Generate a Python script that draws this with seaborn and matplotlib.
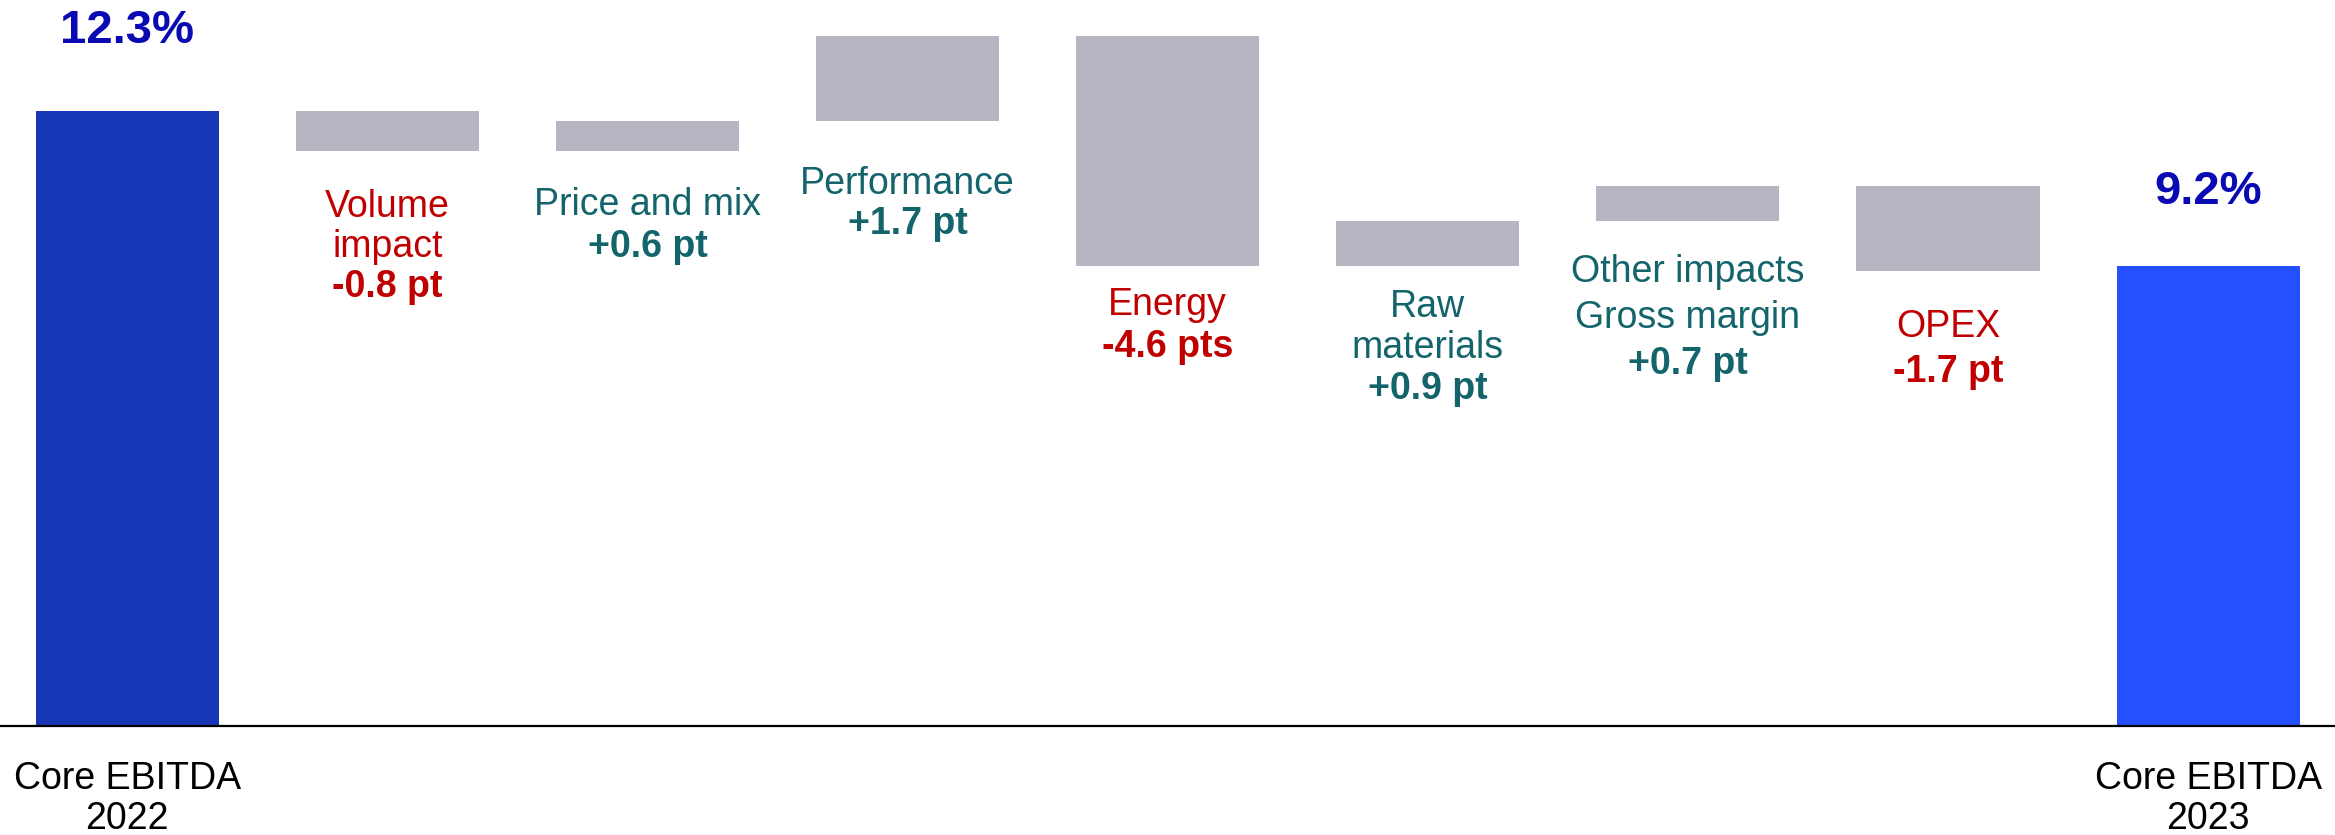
import numpy as np
import pandas as pd
import matplotlib
matplotlib.use("Agg")
import matplotlib.pyplot as plt
import seaborn as sns

# data
categories = ["Core EBITDA 2022", "Volume impact", "Price and mix", "Performance",
              "Energy", "Raw materials", "Other impacts Gross margin", "OPEX",
              "Core EBITDA 2023"]
start_value = 12.3
end_value = 9.2
deltas = [-0.8, 0.6, 1.7, -4.6, 0.9, 0.7, -1.7]
start_label = "12.3%"
end_label = "9.2%"
total_names = [["Core EBITDA", "2022"], ["Core EBITDA", "2023"]]
step_names = [["Volume", "impact"], ["Price and mix"], ["Performance"], ["Energy"],
              ["Raw", "materials"], ["Other impacts", "Gross margin"], ["OPEX"]]
delta_labels = ["-0.8 pt", "+0.6 pt", "+1.7 pt", "-4.6 pts", "+0.9 pt", "+0.7 pt", "-1.7 pt"]

# layout / style
label_gap = [1.1, 1.07, 1.25, 0.77, 0.81, 1.0, 1.1]
line_step = [0.8, 0.84, 0.8, 0.84, 0.82, 0.92, 0.9]
start_color = "#1737B8"
end_color = "#2450FF"
step_color = "#B4B4C4"
pct_color = "#0A0AB4"
pos_color = "#13646B"
neg_color = "#C00000"


def build_frame():
    """Floating bars: bottom and height for each step of the bridge."""
    levels = np.concatenate([[start_value], start_value + np.cumsum(deltas)])
    bottoms = [0.0]
    heights = [start_value]
    for i, d in enumerate(deltas):
        lo = min(levels[i], levels[i + 1])
        bottoms.append(lo)
        heights.append(abs(d))
    bottoms.append(0.0)
    heights.append(end_value)
    return pd.DataFrame({"step": categories, "height": heights, "bottom": bottoms})


def main():
    df = build_frame()

    sns.set_style("white")
    plt.rcParams["font.family"] = ["Liberation Sans", "DejaVu Sans"]

    fig = plt.figure(figsize=(23.35, 8.359), dpi=100)
    ax = fig.add_axes([0, 0, 1, 1])

    sns.barplot(data=df, x="step", y="height", order=categories, bottom=df["bottom"].values,
                color=step_color, width=0.704, linewidth=0, errorbar=None, ax=ax)
    bars = ax.patches
    bars[0].set_facecolor(start_color)
    bars[-1].set_facecolor(end_color)

    ax.axhline(0, color="black", lw=1.6, zorder=3)
    ax.set_xlim(-0.4895, 8.488)
    ax.set_ylim(-2.18, 14.54)
    ax.set_axis_off()

    fs = 27
    # totals
    last = len(categories) - 1
    ax.text(0, start_value + 1.62, start_label, ha="center", va="center",
            fontsize=34, fontweight="bold", color=pct_color)
    ax.text(last, end_value + 1.5, end_label, ha="center", va="center",
            fontsize=34, fontweight="bold", color=pct_color)
    for x, lines in zip([0, last], total_names):
        for k, line in enumerate(lines):
            ax.text(x, -1.04 - 0.8 * k, line, ha="center", va="center",
                    fontsize=fs, color="black")

    # step labels under each floating bar
    for i, (lines, lab) in enumerate(zip(step_names, delta_labels)):
        x = i + 1
        col = neg_color if deltas[i] < 0 else pos_color
        y = df["bottom"].iloc[x] - label_gap[i]
        for line in lines:
            ax.text(x, y, line, ha="center", va="center", fontsize=fs, color=col)
            y -= line_step[i]
        ax.text(x, y, lab, ha="center", va="center", fontsize=fs,
                fontweight="bold", color=col)

    fig.savefig("out.png", dpi=100)


if __name__ == "__main__":
    main()
